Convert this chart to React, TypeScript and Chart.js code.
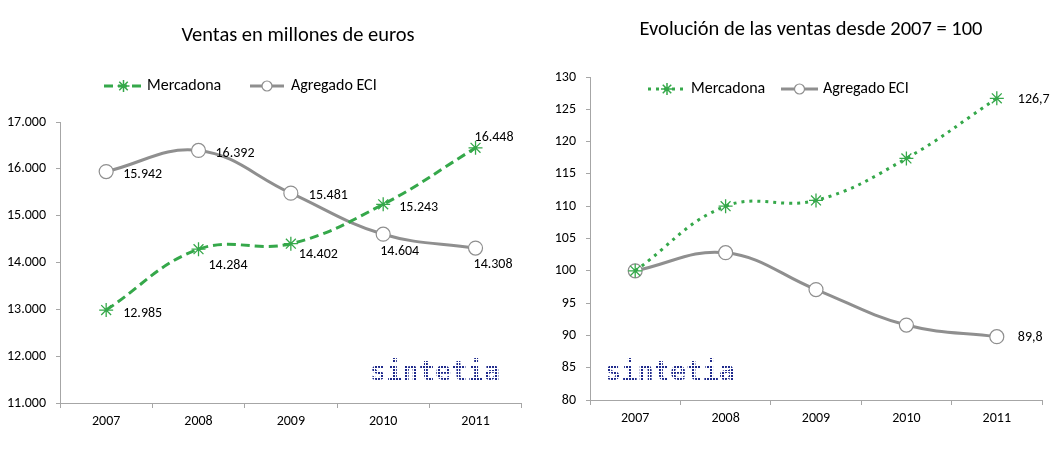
import React, { useEffect, useRef } from "react";
import { Chart, registerables } from "chart.js";
Chart.register(...registerables);

const years = ["2007", "2008", "2009", "2010", "2011"];
const seriesNames = ["Mercadona", "Agregado ECI"];
const ventasMercadona = [12985, 14284, 14402, 15243, 16448];
const ventasECI = [15942, 16392, 15481, 14604, 14308];
const indiceMercadona = [100, 110.0, 110.9, 117.4, 126.7];
const indiceECI = [100, 102.8, 97.1, 91.6, 89.8];
const leftTitle = "Ventas en millones de euros";
const rightTitle = "Evolución de las ventas desde 2007 = 100";
const watermark = "sintetia";

const GREEN = "#35a84a";
const GREY = "#8f8f8f";
const AXIS = "#a6a6a6";
const NAVY = "#1f2a8c";
const FONT = "Carlito, Lato, 'Open Sans', sans-serif";

type LabelPos = ([number, number] | null)[];

interface PanelCfg {
  width: number;
  height: number;
  title: string;
  titleX: number;
  titleY: number;
  merc: number[];
  eci: number[];
  min: number;
  max: number;
  step: number;
  tickFmt: (v: number) => string;
  labelFmt: (v: number) => string;
  mercLabels: LabelPos;
  eciLabels: LabelPos;
  mercDash: number[];
  padTop: number;
  padRight: number;
  xAxisH: number;
  legend: { mercLine: [number, number]; mercText: number; eciLine: [number, number]; eciText: number; y: number };
  wmX: number;
  wmY: number;
}

function drawStar(ctx: CanvasRenderingContext2D, x: number, y: number, r: number, color: string) {
  ctx.save();
  ctx.strokeStyle = color;
  ctx.lineWidth = 1.5;
  ctx.setLineDash([]);
  ctx.beginPath();
  for (let i = 0; i < 4; i++) {
    const a = (i * Math.PI) / 4;
    ctx.moveTo(x - r * Math.cos(a), y - r * Math.sin(a));
    ctx.lineTo(x + r * Math.cos(a), y + r * Math.sin(a));
  }
  ctx.stroke();
  ctx.restore();
}

function drawCircle(ctx: CanvasRenderingContext2D, x: number, y: number, r: number) {
  ctx.save();
  ctx.setLineDash([]);
  ctx.fillStyle = "#fff";
  ctx.strokeStyle = GREY;
  ctx.lineWidth = 1.2;
  ctx.beginPath();
  ctx.arc(x, y, r, 0, Math.PI * 2);
  ctx.fill();
  ctx.stroke();
  ctx.restore();
}

function dotPattern(ctx: CanvasRenderingContext2D) {
  const c = document.createElement("canvas");
  c.width = 3;
  c.height = 3;
  const g = c.getContext("2d")!;
  g.fillStyle = NAVY;
  g.fillRect(0, 0, 2, 2);
  return ctx.createPattern(c, "repeat");
}

function makePlugin(cfg: PanelCfg) {
  return {
    id: "overlay",
    afterDatasetsDraw(chart: any) {
      const ctx: CanvasRenderingContext2D = chart.ctx;
      ctx.save();
      ctx.font = `14px ${FONT}`;
      ctx.fillStyle = "#000";
      ctx.textAlign = "left";
      ctx.textBaseline = "middle";
      const sets: [number, LabelPos][] = [
        [0, cfg.mercLabels],
        [1, cfg.eciLabels],
      ];
      sets.forEach(([di, pos]) => {
        const meta = chart.getDatasetMeta(di);
        const data = chart.data.datasets[di].data as number[];
        meta.data.forEach((pt: any, i: number) => {
          const p = pos[i];
          if (!p) return;
          ctx.fillText(cfg.labelFmt(data[i]), pt.x + p[0], pt.y + p[1]);
        });
      });
      ctx.restore();
    },
    afterDraw(chart: any) {
      const ctx: CanvasRenderingContext2D = chart.ctx;
      ctx.save();
      // title
      ctx.font = `20.5px ${FONT}`;
      ctx.fillStyle = "#000";
      ctx.textAlign = "center";
      ctx.textBaseline = "middle";
      ctx.fillText(cfg.title, cfg.titleX, cfg.titleY);
      // legend
      const L = cfg.legend;
      ctx.lineWidth = 3;
      ctx.strokeStyle = GREEN;
      ctx.setLineDash(cfg.mercDash);
      ctx.beginPath();
      ctx.moveTo(L.mercLine[0], L.y);
      ctx.lineTo(L.mercLine[1], L.y);
      ctx.stroke();
      drawStar(ctx, (L.mercLine[0] + L.mercLine[1]) / 2, L.y, 6, GREEN);
      ctx.setLineDash([]);
      ctx.strokeStyle = GREY;
      ctx.lineWidth = 3;
      ctx.beginPath();
      ctx.moveTo(L.eciLine[0], L.y);
      ctx.lineTo(L.eciLine[1], L.y);
      ctx.stroke();
      drawCircle(ctx, (L.eciLine[0] + L.eciLine[1]) / 2, L.y, 5);
      ctx.font = `16px ${FONT}`;
      ctx.fillStyle = "#000";
      ctx.textAlign = "left";
      ctx.fillText(seriesNames[0], L.mercText, L.y);
      ctx.fillText(seriesNames[1], L.eciText, L.y);
      // watermark
      ctx.font = `bold 27px 'DejaVu Sans Mono', monospace`;
      ctx.textAlign = "center";
      ctx.textBaseline = "alphabetic";
      const pat = dotPattern(ctx);
      ctx.fillStyle = pat || NAVY;
      ctx.fillText(watermark, cfg.wmX, cfg.wmY);
      ctx.restore();
    },
  };
}

function Panel({ cfg, left }: { cfg: PanelCfg; left: number }) {
  const ref = useRef<HTMLCanvasElement>(null);
  useEffect(() => {
    if (!ref.current) return;
    const chart = new Chart(ref.current, {
      type: "line",
      data: {
        labels: years,
        datasets: [
          {
            label: seriesNames[0],
            data: cfg.merc,
            borderColor: GREEN,
            borderWidth: 3,
            borderDash: cfg.mercDash,
            tension: 0.4,
            pointStyle: "star",
            pointRadius: 7,
            pointBorderColor: GREEN,
            pointBackgroundColor: GREEN,
            pointBorderWidth: 1.3,
            fill: false,
          },
          {
            label: seriesNames[1],
            data: cfg.eci,
            borderColor: GREY,
            borderWidth: 3,
            tension: 0.4,
            pointStyle: "circle",
            pointRadius: 7,
            pointBackgroundColor: "#fff",
            pointBorderColor: GREY,
            pointBorderWidth: 1.2,
            fill: false,
          },
        ],
      },
      options: {
        responsive: false,
        animation: false,
        devicePixelRatio: 1,
        layout: { padding: { top: cfg.padTop, right: cfg.padRight, left: 0, bottom: 0 } },
        plugins: { legend: { display: false }, title: { display: false }, tooltip: { enabled: false } },
        scales: {
          x: {
            offset: true,
            border: { display: true, color: AXIS, width: 1 },
            grid: { display: true, drawOnChartArea: false, drawTicks: true, tickLength: 5, color: AXIS, offset: true },
            ticks: { color: "#000", font: { size: 14, family: FONT }, padding: 5, maxRotation: 0 },
            afterFit: (s: any) => {
              s.height = cfg.xAxisH;
            },
          },
          y: {
            min: cfg.min,
            max: cfg.max,
            border: { display: true, color: AXIS, width: 1 },
            grid: { display: true, drawOnChartArea: false, drawTicks: true, tickLength: 4, color: AXIS },
            ticks: {
              stepSize: cfg.step,
              color: "#000",
              font: { size: 14, family: FONT },
              padding: 10,
              callback: (v: any) => cfg.tickFmt(Number(v)),
            },
            afterFit: (s: any) => {
              s.width = 60;
            },
          },
        },
      } as any,
      plugins: [makePlugin(cfg) as any],
    });
    return () => chart.destroy();
  }, [cfg]);
  return (
    <div style={{ position: "absolute", left, top: 0, width: cfg.width, height: cfg.height }}>
      <canvas ref={ref} width={cfg.width} height={cfg.height} style={{ width: cfg.width, height: cfg.height, display: "block" }} />
    </div>
  );
}

const thousands = (v: number) => {
  const s = Math.round(v).toString();
  return s.length > 3 ? s.slice(0, s.length - 3) + "." + s.slice(s.length - 3) : s;
};

const leftCfg: PanelCfg = {
  width: 530,
  height: 464,
  title: leftTitle,
  titleX: 298,
  titleY: 36,
  merc: ventasMercadona,
  eci: ventasECI,
  min: 11000,
  max: 17000,
  step: 1000,
  tickFmt: thousands,
  labelFmt: thousands,
  mercLabels: [[17, 3], [10, 16], [8, 11], [16, 3], [-1, -10]],
  eciLabels: [[17, 3], [17, 3], [18, 2], [-3, 17], [-2, 16]],
  mercDash: [9, 5],
  padTop: 122,
  padRight: 1,
  xAxisH: 61,
  legend: { mercLine: [104, 143], mercText: 147, eciLine: [250, 284], eciText: 291, y: 86 },
  wmX: 435,
  wmY: 380,
};

const rightCfg: PanelCfg = {
  width: 525,
  height: 464,
  title: rightTitle,
  titleX: 281,
  titleY: 30,
  merc: indiceMercadona,
  eci: indiceECI,
  min: 80,
  max: 130,
  step: 5,
  tickFmt: (v: number) => String(v),
  labelFmt: (v: number) => v.toFixed(1).replace(".", ","),
  mercLabels: [null, null, null, null, [21, 1]],
  eciLabels: [null, null, null, null, [21, 1]],
  mercDash: [3, 5],
  padTop: 77,
  padRight: 13,
  xAxisH: 64,
  legend: { mercLine: [118, 156], mercText: 161, eciLine: [251, 288], eciText: 293, y: 89 },
  wmX: 140,
  wmY: 380,
};

export default function App() {
  return (
    <div style={{ position: "absolute", left: 0, top: 0, width: 1055, height: 464, background: "#fff", overflow: "hidden" }}>
      <Panel cfg={leftCfg} left={0} />
      <Panel cfg={rightCfg} left={530} />
    </div>
  );
}
